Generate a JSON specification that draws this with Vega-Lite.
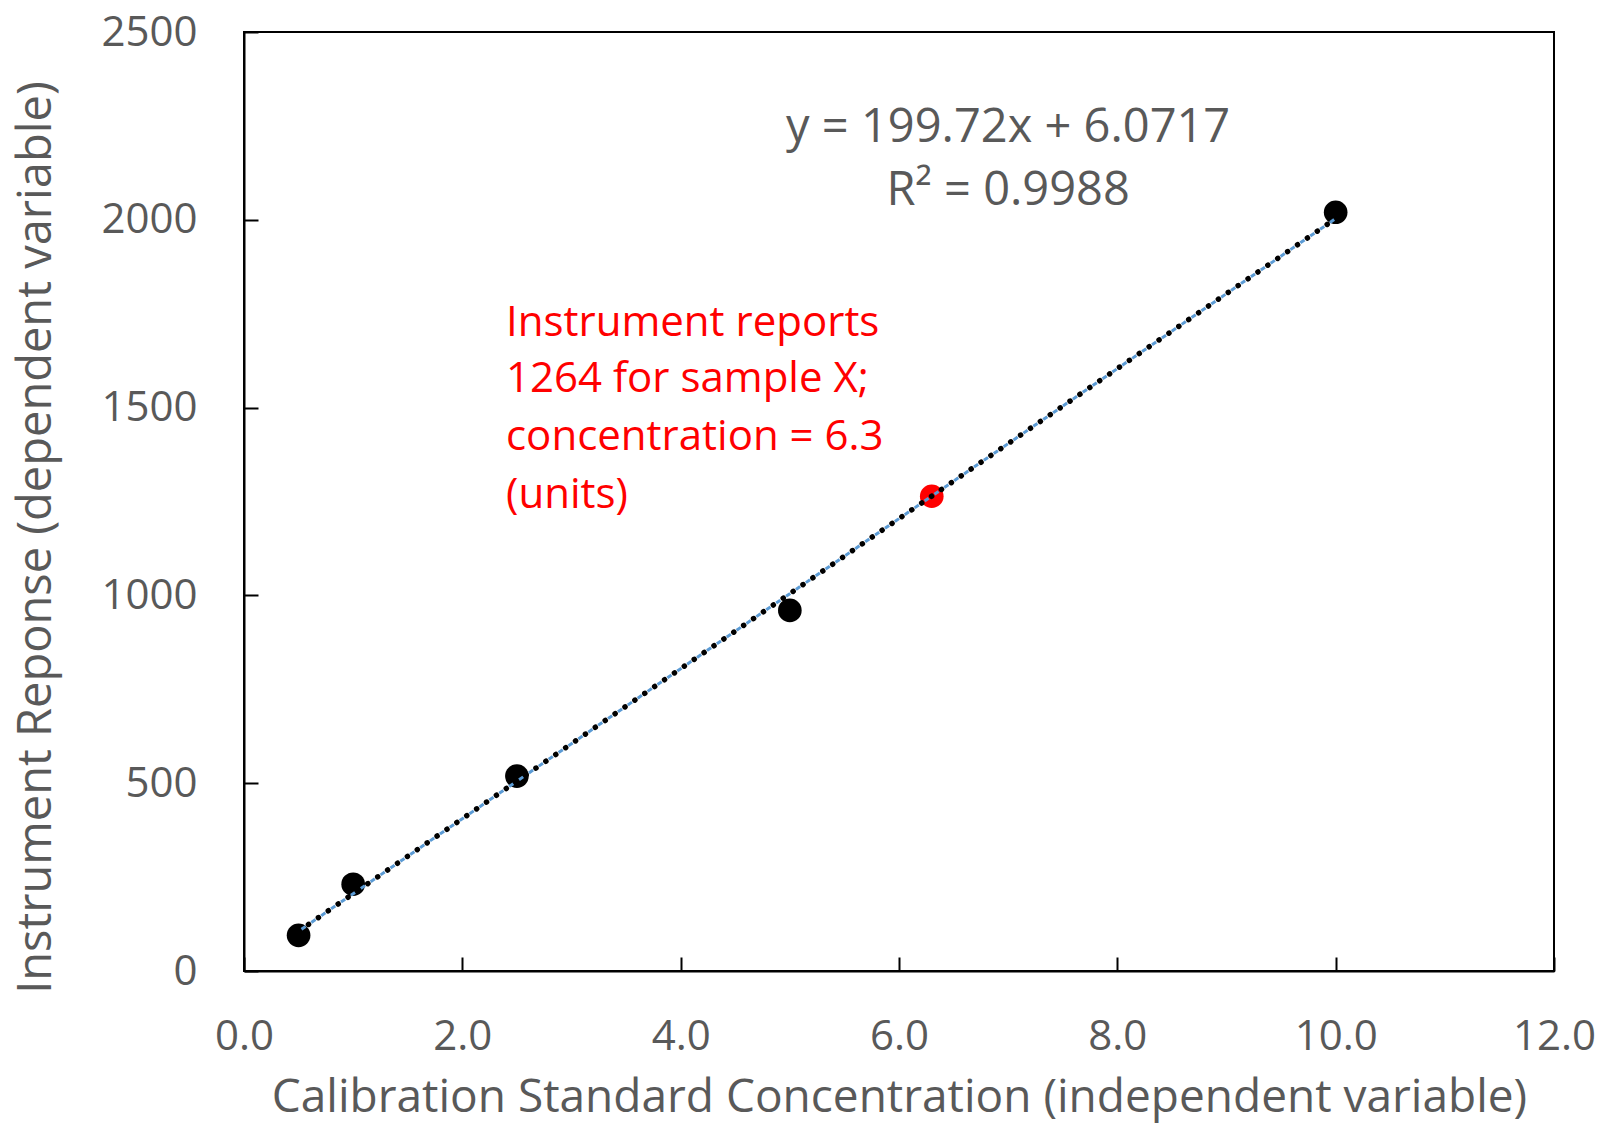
{
  "$schema": "https://vega.github.io/schema/vega-lite/v6.json",
  "autosize": {"type": "none"},
  "padding": {"left": 244, "top": 32, "right": 47, "bottom": 156},
  "width": 1310,
  "height": 939,
  "background": "white",
  "config": {
    "font": "Open Sans",
    "view": {"stroke": "black", "strokeWidth": 2},
    "axis": {
      "grid": false,
      "domainColor": "black",
      "domainWidth": 2,
      "tickColor": "black",
      "tickWidth": 2,
      "tickSize": -14,
      "labelFont": "Open Sans",
      "labelFontSize": 42,
      "labelColor": "#595959",
      "titleFont": "Open Sans",
      "titleFontSize": 46,
      "titleFontWeight": "normal",
      "titleColor": "#595959"
    }
  },
  "datasets": {
    "points": [
      {"conc": 0.5, "resp": 95, "kind": "standard"},
      {"conc": 1.0, "resp": 231, "kind": "standard"},
      {"conc": 2.5, "resp": 519, "kind": "standard"},
      {"conc": 5.0, "resp": 960, "kind": "standard"},
      {"conc": 10.0, "resp": 2020, "kind": "standard"},
      {"conc": 6.3, "resp": 1264, "kind": "sample"}
    ],
    "trend": [
      {"conc": 0.5, "resp": 105.93},
      {"conc": 10.0, "resp": 2003.27}
    ],
    "equation": [
      {"conc": 7.0, "resp": 2244, "label": "y = 199.72x + 6.0717"},
      {"conc": 7.0, "resp": 2077, "label": "R² = 0.9988"}
    ],
    "note": [
      {"conc": 2.4, "resp": 1725, "label": "Instrument reports"},
      {"conc": 2.4, "resp": 1576, "label": "1264 for sample X;"},
      {"conc": 2.4, "resp": 1422, "label": "concentration = 6.3"},
      {"conc": 2.4, "resp": 1267, "label": "(units)"}
    ]
  },
  "layer": [
    {
      "data": {"name": "points"},
      "mark": {"type": "circle", "size": 560, "opacity": 1},
      "encoding": {
        "x": {
          "field": "conc", "type": "quantitative",
          "scale": {"domain": [0, 12], "nice": false},
          "axis": {
            "values": [0, 2, 4, 6, 8, 10, 12],
            "format": ".1f",
            "labelPadding": 59,
            "labelFlush": false,
            "title": "Calibration Standard Concentration (independent variable)",
            "titleX": 655,
            "titleY": 126,
            "titleBaseline": "middle"
          }
        },
        "y": {
          "field": "resp", "type": "quantitative",
          "scale": {"domain": [0, 2500], "nice": false},
          "axis": {
            "values": [0, 500, 1000, 1500, 2000, 2500],
            "format": "d",
            "labelPadding": 61,
            "labelFlush": false,
            "title": "Instrument Reponse (dependent variable)",
            "titleFontSize": 47,
            "titleX": -208,
            "titleY": 505,
            "titleBaseline": "middle"
          }
        },
        "color": {
          "field": "kind", "type": "nominal",
          "scale": {"domain": ["standard", "sample"], "range": ["black", "#FF0000"]},
          "legend": null
        }
      }
    },
    {
      "data": {"name": "trend"},
      "mark": {"type": "line", "color": "#5B9BD5", "strokeWidth": 3, "strokeDash": [5, 7], "strokeDashOffset": -3.5},
      "encoding": {
        "x": {"field": "conc", "type": "quantitative"},
        "y": {"field": "resp", "type": "quantitative"}
      }
    },
    {
      "data": {"name": "trend"},
      "mark": {"type": "line", "color": "black", "strokeWidth": 5.5, "strokeCap": "round", "strokeDash": [0.1, 11.9]},
      "encoding": {
        "x": {"field": "conc", "type": "quantitative"},
        "y": {"field": "resp", "type": "quantitative"}
      }
    },
    {
      "data": {"name": "equation"},
      "mark": {"type": "text", "font": "Open Sans", "fontSize": 47, "color": "#595959", "align": "center", "baseline": "middle"},
      "encoding": {
        "x": {"field": "conc", "type": "quantitative"},
        "y": {"field": "resp", "type": "quantitative"},
        "text": {"field": "label"}
      }
    },
    {
      "data": {"name": "note"},
      "mark": {"type": "text", "font": "Open Sans", "fontSize": 42, "color": "#FF0000", "align": "left", "baseline": "middle"},
      "encoding": {
        "x": {"field": "conc", "type": "quantitative"},
        "y": {"field": "resp", "type": "quantitative"},
        "text": {"field": "label"}
      }
    }
  ]
}
